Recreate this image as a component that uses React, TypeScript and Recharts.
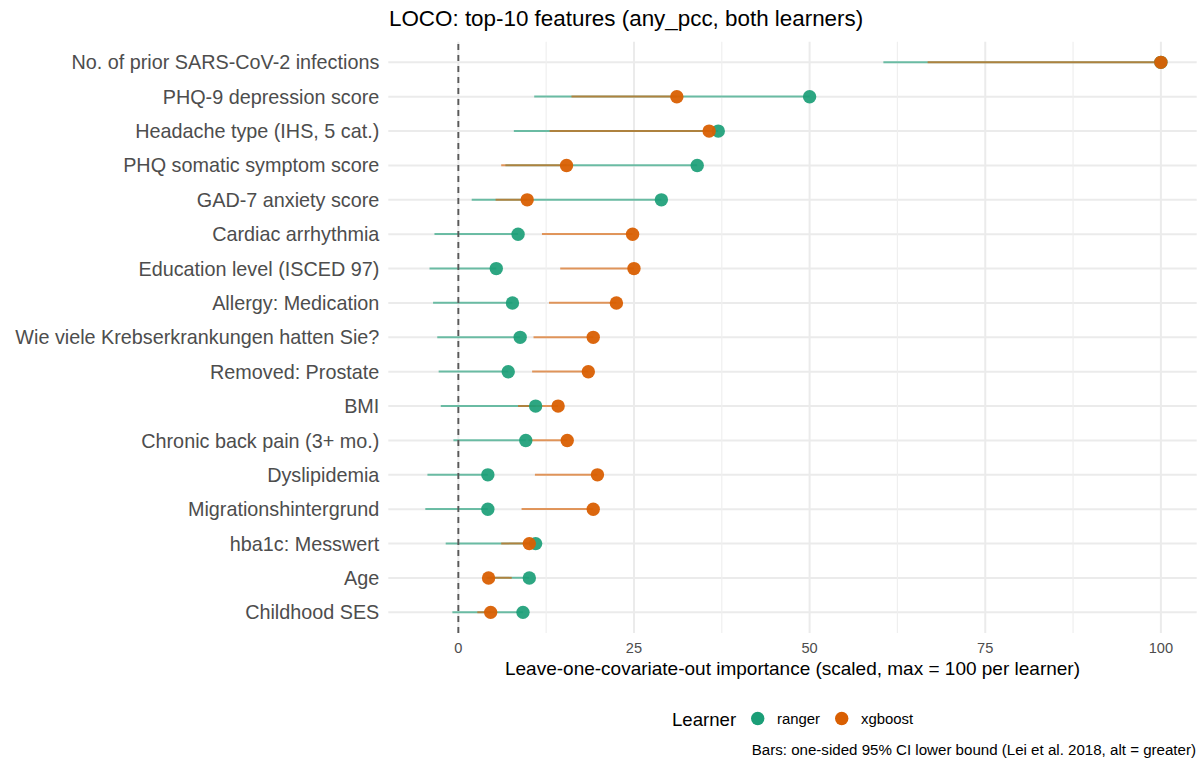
import React from "react";
import {
  ComposedChart,
  Bar,
  Line,
  XAxis,
  YAxis,
  CartesianGrid,
  ReferenceLine,
} from "recharts";

// ---------- data ----------
const features: string[] = [
  "No. of prior SARS-CoV-2 infections",
  "PHQ-9 depression score",
  "Headache type (IHS, 5 cat.)",
  "PHQ somatic symptom score",
  "GAD-7 anxiety score",
  "Cardiac arrhythmia",
  "Education level (ISCED 97)",
  "Allergy: Medication",
  "Wie viele Krebserkrankungen hatten Sie?",
  "Removed: Prostate",
  "BMI",
  "Chronic back pain (3+ mo.)",
  "Dyslipidemia",
  "Migrationshintergrund",
  "hba1c: Messwert",
  "Age",
  "Childhood SES",
];

const rangerImportance: number[] = [100, 50.0, 37.0, 34.0, 28.9, 8.5, 5.4, 7.7, 8.8, 7.1, 11.0, 9.6, 4.2, 4.2, 11.0, 10.1, 9.2];
const rangerLower: number[] = [60.5, 10.8, 7.9, 6.7, 1.9, -3.4, -4.1, -3.6, -3.0, -2.8, -2.5, -0.7, -4.4, -4.7, -1.8, 4.0, -0.85];
const xgboostImportance: number[] = [100, 31.1, 35.7, 15.4, 9.8, 24.8, 25.0, 22.5, 19.2, 18.5, 14.2, 15.5, 19.8, 19.2, 10.1, 4.3, 4.6];
const xgboostLower: number[] = [66.8, 16.1, 13.0, 6.1, 5.3, 11.9, 14.5, 12.9, 10.7, 10.5, 8.5, 10.0, 10.9, 9.0, 6.1, 7.6, 2.7];

const majorTicks: number[] = [0, 25, 50, 75, 100];
const minorTicks: number[] = [12.5, 37.5, 62.5, 87.5];
const xDomain: [number, number] = [-9.97, 105.1];

const learners = ["ranger", "xgboost"];
const titleText = "LOCO: top-10 features (any_pcc, both learners)";
const xTitle = "Leave-one-covariate-out importance (scaled, max = 100 per learner)";
const captionText = "Bars: one-sided 95% CI lower bound (Lei et al. 2018, alt = greater)";

// ---------- styles ----------
const TEAL = "#1B9E77";
const ORANGE = "#D95F02";
const FONT = '"Liberation Sans", Arial, Helvetica, sans-serif';

const rows = features.map((name, i) => ({
  name,
  ranger: rangerImportance[i],
  xgboost: xgboostImportance[i],
  rangerRange: [Math.min(rangerLower[i], rangerImportance[i]), Math.max(rangerLower[i], rangerImportance[i])],
  xgboostRange: [Math.min(xgboostLower[i], xgboostImportance[i]), Math.max(xgboostLower[i], xgboostImportance[i])],
}));

const YTick = (props: any) => {
  const { x, y, payload } = props;
  return (
    <text x={x} y={y} dy="0.355em" textAnchor="end" fill="#4D4D4D" fontSize={19.8} fontFamily={FONT}>
      {payload.value}
    </text>
  );
};

const XTick = (props: any) => {
  const { x, y, payload } = props;
  return (
    <text x={x} y={y + 19.5} textAnchor="middle" fill="#4D4D4D" fontSize={14.6} fontFamily={FONT}>
      {payload.value}
    </text>
  );
};

const W = 1198;
const H = 763;
const panelTop = 41.7;
const panelBottom = 633;
const xAxisH = 30;

export default function App() {
  return (
    <div style={{ position: "absolute", left: 0, top: 0, width: W, height: H, background: "#fff" }}>
      <ComposedChart
        width={W}
        height={H}
        data={rows}
        layout="vertical"
        margin={{ top: panelTop, right: 1.3, left: 0, bottom: H - panelBottom - xAxisH }}
      >
        <CartesianGrid
          xAxisId={0}
          yAxisId="a"
          stroke="#EBEBEB"
          strokeWidth={2}
          fill="none"
          syncWithTicks
        />
        <CartesianGrid
          xAxisId="minor"
          yAxisId="a"
          horizontal={false}
          stroke="#EFEFEF"
          strokeWidth={1.2}
          fill="none"
          syncWithTicks
        />
        <XAxis
          xAxisId={0}
          type="number"
          domain={xDomain}
          ticks={majorTicks}
          allowDataOverflow
          axisLine={false}
          tickLine={false}
          tickSize={0}
          tickMargin={0}
          height={xAxisH}
          tick={<XTick />}
          interval={0}
        />
        <XAxis xAxisId="minor" type="number" domain={xDomain} ticks={minorTicks} allowDataOverflow hide />
        <YAxis
          yAxisId="a"
          type="category"
          dataKey="name"
          width={388.3}
          axisLine={false}
          tickLine={false}
          tickSize={0}
          tickMargin={9}
          padding={{ top: 3.44, bottom: 3.44 }}
          tick={<YTick />}
          interval={0}
        />
        <YAxis yAxisId="b" type="category" dataKey="name" hide padding={{ top: 3.44, bottom: 3.44 }} />
        <Bar
          yAxisId="a"
          dataKey="rangerRange"
          barSize={2}
          fill={TEAL}
          fillOpacity={0.62}
          isAnimationActive={false}
        />
        <Bar
          yAxisId="b"
          dataKey="xgboostRange"
          barSize={2}
          fill={ORANGE}
          fillOpacity={0.62}
          isAnimationActive={false}
        />
        <ReferenceLine yAxisId="a" x={0} stroke="#595959" strokeWidth={1.9} strokeDasharray="6 5" />
        <Line
          yAxisId="a"
          dataKey="ranger"
          stroke="none"
          dot={{ r: 6.7, fill: TEAL, stroke: "none", fillOpacity: 0.92 }}
          activeDot={false}
          isAnimationActive={false}
        />
        <Line
          yAxisId="a"
          dataKey="xgboost"
          stroke="none"
          dot={{ r: 6.7, fill: ORANGE, stroke: "none", fillOpacity: 0.95 }}
          activeDot={false}
          isAnimationActive={false}
        />
      </ComposedChart>
      <svg
        width={W}
        height={H}
        style={{ position: "absolute", left: 0, top: 0, pointerEvents: "none" }}
        fontFamily={FONT}
      >
        <text x={389} y={26} fontSize={22.4} fill="#000">
          {titleText}
        </text>
        <text x={792.5} y={675} fontSize={19} fill="#000" textAnchor="middle">
          {xTitle}
        </text>
        <text x={672} y={725.6} fontSize={18.6} fill="#000">
          Learner
        </text>
        <circle cx={757.7} cy={718.5} r={6.7} fill={TEAL} />
        <text x={777} y={724.3} fontSize={14.9} fill="#000">
          {learners[0]}
        </text>
        <circle cx={841.7} cy={718.5} r={6.7} fill={ORANGE} />
        <text x={861} y={724.3} fontSize={14.9} fill="#000">
          {learners[1]}
        </text>
        <text x={1196} y={754.5} fontSize={15.1} fill="#000" textAnchor="end">
          {captionText}
        </text>
      </svg>
    </div>
  );
}
